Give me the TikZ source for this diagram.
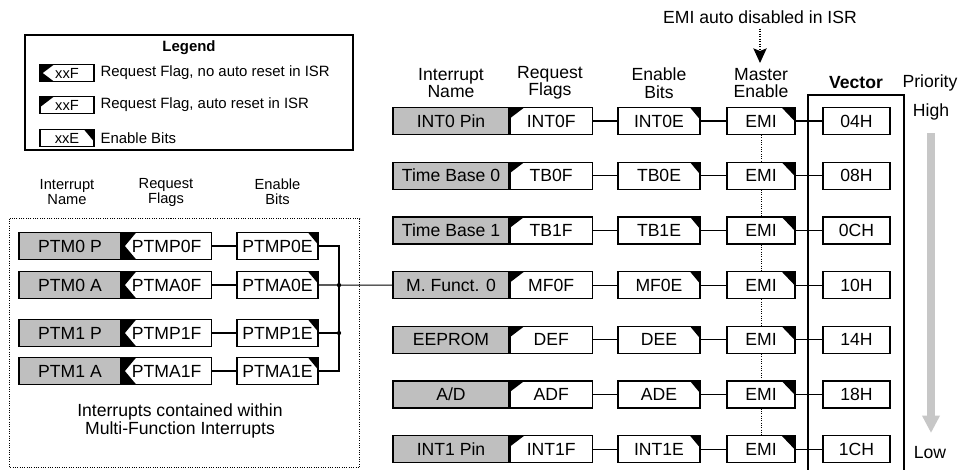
\documentclass[tikz,border=0pt]{standalone}
\usepackage{fontspec}
\setmainfont{Liberation Sans}
\usetikzlibrary{arrows.meta}

\begin{document}
\begin{tikzpicture}[x=.75pt,y=-.75pt,line width=.9pt,
  box/.style={draw,fill=white,inner sep=0pt,minimum height=20.25pt,font=\fontsize{13.2}{13.2}\selectfont},
  namebox/.style={box,fill=black!25},
  resetflag/.style={box,path picture={\fill[black] (path picture bounding box.north west) -- ++(10.5pt,0pt) -- ++(-10.5pt,-8pt) -- cycle;}},
  keepflag/.style={box,path picture={\fill[black] (path picture bounding box.north west) -- ++(10.5pt,0pt) -- ([xshift=2pt]path picture bounding box.west) -- ([xshift=10.5pt]path picture bounding box.south west) -- (path picture bounding box.south west) -- cycle;}},
  enbox/.style={box,path picture={\fill[black] (path picture bounding box.north east) -- ++(-7.5pt,0pt) -- ++(7.5pt,-9pt) -- cycle;}},
  emibox/.style={box,path picture={\fill[black] (path picture bounding box.north east) -- ++(-10pt,0pt) -- ++(10pt,-10.5pt) -- cycle;}},
  head/.style={align=center,font=\fontsize{13.2}{13.1}\selectfont},
  lhead/.style={align=center,font=\fontsize{11}{11.25}\selectfont},
  keybox/.style={minimum width=40.5pt,minimum height=12.75pt,font=\fontsize{11}{11}\selectfont}]
\useasboundingbox (0,0) rectangle (962,469);
% legend
\draw (25,35) rectangle (353,150);
\node (lg) [font=\bfseries\fontsize{11.2}{11.2}\selectfont] at (189,48) {Legend};
\foreach \y/\s/\t/\d in {73/keepflag/xxF/{Request Flag, no auto reset in ISR},105/resetflag/xxF/{Request Flag, auto reset in ISR},138/enbox/xxE/Enable Bits}{
  \node (key\y) [\s,keybox] at (67,\y) {\t};
  \node (keytext\y) [anchor=west,inner sep=0pt,font=\fontsize{11.2}{11.2}\selectfont] at (100,\y) {\d};}
% multi-function group
\node (lh1) [lhead] at (67,192) {Interrupt\\Name};
\node (lh2) [lhead] at (166,192) {Request\\Flags};
\node (lh3) [lhead] at (277.5,192) {Enable\\Bits};
\draw[densely dotted,line width=.75pt] (9.5,218.5) rectangle (359.5,467.5);
\foreach \i/\y/\n/\f/\e in {0/246/PTM0 P/PTMP0F/PTMP0E,1/285/PTM0 A/PTMA0F/PTMA0E,2/333/PTM1 P/PTMP1F/PTMP1E,3/371/PTM1 A/PTMA1F/PTMA1E}{
  \node (ln\i) [namebox,minimum width=76.5pt] at (70,\y) {\n};
  \node (lf\i) [keepflag,minimum width=66.75pt,anchor=west] at (ln\i.east) {\f};
  \node (le\i) [enbox,minimum width=60.75pt] at (277.5,\y) {\e};
  \draw (lf\i) -- (le\i);}
\node (mfnote) [head] at (180,421) {Interrupts contained within\\Multi-Function Interrupts};
% main interrupts
\node (isr) [head] at (760,17) {EMI auto disabled in ISR};
\coordinate (isrtip) at (760,63);
\draw[densely dotted,-{Stealth[width=10pt,length=11pt,inset=2pt]}] (isr) -- (isrtip);
\node (rh1) [head] at (451,83) {Interrupt\\Name};
\node (rh2) [head] at (550,83) {Request\\Flags};
\node (rh3) [head] at (659,83) {Enable\\Bits};
\node (rh4) [head] at (761,83) {Master\\Enable};
\node (rh5) [head,font=\bfseries\fontsize{13.2}{13.2}\selectfont] at (856,83) {Vector};
\node (rh6) [head] at (930,83) {Priority};
\draw (808,472) |- (904,95) -- (904,472);
\foreach \i/\n/\f/\e/\v in {0/INT0 Pin/INT0F/INT0E/04H,1/Time Base 0/TB0F/TB0E/08H,2/Time Base 1/TB1F/TB1E/0CH,3/M. Funct. 0/MF0F/MF0E/10H,4/EEPROM/DEF/DEE/14H,5/A\slash D/ADF/ADE/18H,6/INT1 Pin/INT1F/INT1E/1CH}{
  \node (rn\i) [namebox,minimum width=87pt] at (451,121+54.7*\i) {\n};
  \node (rf\i) [resetflag,minimum width=61.5pt,anchor=west] at (rn\i.east) {\f};
  \node (re\i) [enbox,minimum width=61.5pt] at (659,121+54.7*\i) {\e};
  \node (emi\i) [emibox,minimum width=51pt] at (761,121+54.7*\i) {EMI};
  \node (vec\i) [box,minimum width=50.25pt] at (856.5,121+54.7*\i) {\v};
  \draw (rf\i) -- (re\i) (re\i) -- (emi\i) (emi\i) -- (vec\i);}
\foreach \i [count=\j] in {0,...,5}{\draw[densely dotted,line width=.75pt] (emi\i) -- (emi\j);}
% bus into M. Funct. 0
\coordinate (jA) at (339,285.1);
\coordinate (jB) at (339,333);
\draw (le0.east) -| (jA) -- (jB) |- (le3.east);
\draw (le1.east) -- (jA) -- (rn3.west);
\draw (le2.east) -- (jB);
\fill (jA) circle (1.6pt) (jB) circle (1.6pt);
% priority
\node (hi) [head] at (931,112) {High};
\node (lo) [head] at (930,453) {Low};
\coordinate (ptop) at (931,133);
\coordinate (pbot) at (931,433);
\draw[line width=6pt,black!22,-{Triangle[width=12.5pt,length=13pt]}] (ptop) -- (pbot);
\end{tikzpicture}
\end{document}
